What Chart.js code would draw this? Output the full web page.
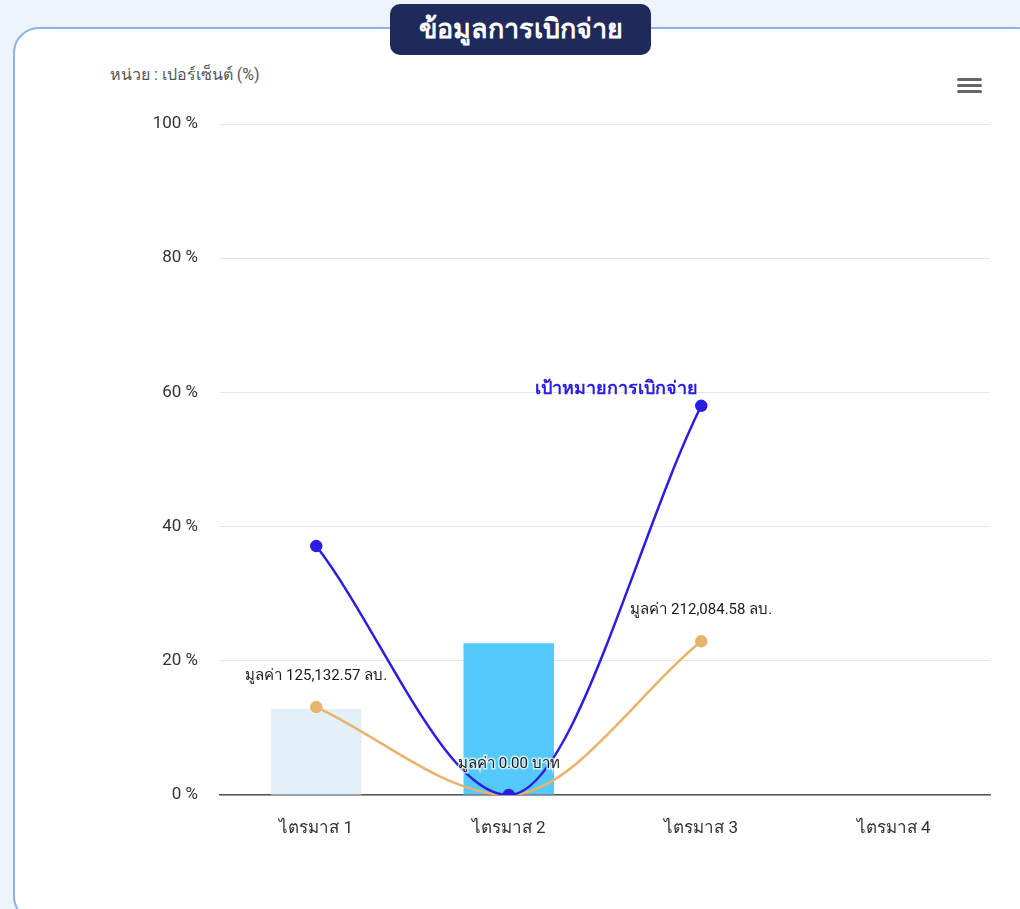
<!DOCTYPE html>
<html lang="th">
<head>
<meta charset="utf-8">
<script src="https://cdn.jsdelivr.net/npm/chart.js@4.4.1/dist/chart.umd.min.js"></script>
<style>
    html, body { margin: 0; padding: 0; }
    body {
        width: 1020px; height: 909px; overflow: hidden; position: relative;
        background: #eef4fb;
        font-family: Roboto, "Noto Sans", sans-serif;
    }
    .card {
        position: absolute; left: 13px; top: 27px; width: 1030px; height: 895px;
        box-sizing: border-box; border: 2px solid #8db2ea; border-radius: 26px;
        background: #ffffff;
    }
    .badge {
        position: absolute; left: 390px; top: 4px; width: 261px; height: 51px;
        background: #1f2a5b; border-radius: 10px; color: #fff;
        font-size: 27px; font-weight: bold; text-align: center; line-height: 50px;
    }
    .unit {
        position: absolute; left: 110px; top: 62px; font-size: 16px; color: #555;
    }
    .menu { position: absolute; left: 957px; top: 78px; width: 25px; }
    .menu span { display: block; height: 3px; background: #666; border-radius: 2px; margin-bottom: 3px; }
    #chart-wrap { position: absolute; left: 0; top: 0; width: 1020px; height: 909px; }
</style>
</head>
<body>
<div class="card"></div>
<div class="badge">ข้อมูลการเบิกจ่าย</div>
<div class="unit">หน่วย : เปอร์เซ็นต์ (%)</div>
<div class="menu"><span></span><span></span><span></span></div>
<div id="chart-wrap"><canvas id="disburse-chart"></canvas></div>
<script>
// ข้อมูลการเบิกจ่ายรายไตรมาส (%)
const quarters = ['ไตรมาส 1', 'ไตรมาส 2', 'ไตรมาส 3', 'ไตรมาส 4'];
const barValues = [12.8, 22.6, 0, 0];
const barColors = ['#e4f0f9', '#55c9fb', '#55c9fb', '#55c9fb'];
const actualValues = [13.1, 0, 22.9, null];
const actualLabels = ['มูลค่า 125,132.57 ลบ.', 'มูลค่า 0.00 บาท', 'มูลค่า 212,084.58 ลบ.'];
const targetValues = [37.1, 0, 58.0, null];
const targetName = 'เป้าหมายการเบิกจ่าย';
const yTicks = [0, 20, 40, 60, 80, 100];

const FONT = 'Roboto, "Noto Sans", sans-serif';

// วาดข้อความกำกับจุดบนเส้น
const pointLabels = {
    id: 'pointLabels',
    afterDatasetsDraw(chart) {
        const ctx = chart.ctx;
        ctx.save();
        const orange = chart.getDatasetMeta(1);
        ctx.font = '15px ' + FONT;
        ctx.textAlign = 'center';
        ctx.textBaseline = 'middle';
        orange.data.forEach((pt, i) => {
            if (!actualLabels[i]) return;
            ctx.lineWidth = 3;
            ctx.strokeStyle = 'rgba(255,255,255,0.7)';
            ctx.strokeText(actualLabels[i], pt.x, pt.y - 31);
            ctx.fillStyle = '#1a1a1a';
            ctx.fillText(actualLabels[i], pt.x, pt.y - 31);
        });
        // ชื่อเส้นเป้าหมายที่จุดสุดท้าย
        const blue = chart.getDatasetMeta(0);
        const last = blue.data[2];
        ctx.font = 'bold 18px ' + FONT;
        ctx.textAlign = 'right';
        ctx.fillStyle = '#2a1de6';
        ctx.fillText(targetName, last.x - 3, last.y - 16);
        ctx.restore();
    }
};

const ctx = document.getElementById('disburse-chart').getContext('2d');
new Chart(ctx, {
    type: 'bar',
    data: {
        labels: quarters,
        datasets: [
            {
                type: 'line',
                label: targetName,
                data: targetValues,
                borderColor: '#2a1de6',
                backgroundColor: '#2a1de6',
                borderWidth: 2.5,
                pointRadius: 5,
                cubicInterpolationMode: 'monotone',
                order: 0
            },
            {
                type: 'line',
                label: 'ผลการเบิกจ่าย',
                data: actualValues,
                borderColor: '#e8b36c',
                backgroundColor: '#e8b36c',
                borderWidth: 2.5,
                pointRadius: 5,
                cubicInterpolationMode: 'monotone',
                order: 1
            },
            {
                label: 'ร้อยละการเบิกจ่าย',
                data: barValues,
                backgroundColor: barColors,
                categoryPercentage: 1,
                barPercentage: 0.47,
                order: 2
            }
        ]
    },
    options: {
        responsive: true,
        maintainAspectRatio: false,
        animation: false,
        layout: { padding: { left: 120, top: 124, right: 30, bottom: 54 } },
        plugins: { legend: { display: false }, tooltip: { enabled: false } },
        scales: {
            x: {
                afterFit: s => { s.height = 60; },
                grid: { display: false, drawTicks: false },
                border: { color: '#555', width: 1.5 },
                ticks: { color: '#333', padding: 24, font: { size: 17, family: FONT } }
            },
            y: {
                min: 0,
                max: 100,
                afterFit: s => { s.width = 100; },
                afterBuildTicks: s => { s.ticks = yTicks.map(v => ({ value: v })); },
                border: { display: false },
                grid: { color: '#e6e6e6', drawTicks: false },
                ticks: {
                    color: '#333',
                    padding: 22,
                    font: { size: 17, family: FONT },
                    callback: v => v + ' %'
                }
            }
        }
    },
    plugins: [pointLabels]
});
</script>
</body>
</html>
